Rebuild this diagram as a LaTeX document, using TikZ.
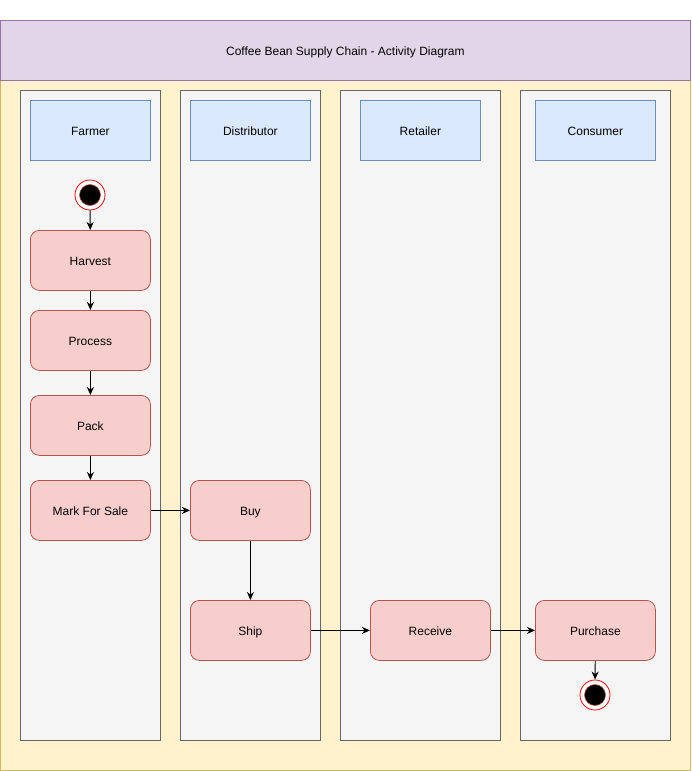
\documentclass[tikz,border=0pt]{standalone}
\usepackage{fontspec}
\setmainfont{Liberation Sans}
\usetikzlibrary{arrows.meta}
\definecolor{titlefill}{HTML}{E1D5E7}
\definecolor{titledraw}{HTML}{9673A6}
\definecolor{poolfill}{HTML}{FFF2CC}
\definecolor{pooldraw}{HTML}{D6B656}
\definecolor{lanefill}{HTML}{F5F5F5}
\definecolor{lanedraw}{HTML}{666666}
\definecolor{headfill}{HTML}{DAE8FC}
\definecolor{headdraw}{HTML}{6C8EBF}
\definecolor{actfill}{HTML}{F8CECC}
\definecolor{actdraw}{HTML}{B85450}
\definecolor{ringred}{HTML}{FF0000}
\tikzset{
  box/.style={draw, line width=0.8pt, inner sep=0pt, anchor=north west, text height=10.8pt, text depth=0pt, font=\fontsize{12}{14}\selectfont},
  lanebox/.style={box, fill=lanefill, draw=lanedraw},
  headbox/.style={box, fill=headfill, draw=headdraw, minimum width=120pt, minimum height=60pt},
  actbox/.style={box, fill=actfill, draw=actdraw, rounded corners=9pt, minimum width=120pt, minimum height=60pt},
  ring/.style={circle, draw=ringred, fill=white, line width=0.8pt, minimum size=30pt, inner sep=0pt},
  dot/.style={circle, fill=black, draw=actdraw, line width=0.6pt, minimum size=21pt, inner sep=0pt},
  flow/.style={draw=black, line width=0.9pt, -{Stealth[length=8pt,width=7pt,inset=2.5pt]}}
}
\begin{document}
\begin{tikzpicture}[x=1pt,y=-1pt]
\useasboundingbox (0,0) rectangle (691,771);
% pool
\node[box, fill=poolfill, draw=pooldraw, minimum width=690pt, minimum height=690pt] (pool) at (0,80) {};
\node[box, fill=titlefill, draw=titledraw, minimum width=690pt, minimum height=60pt] (title) at (0,20) {Coffee Bean Supply Chain - Activity Diagram};
% lanes
\node[lanebox, minimum width=140pt, minimum height=650pt] (lane1) at (20,90) {};
\node[lanebox, minimum width=140pt, minimum height=650pt] (lane2) at (180,90) {};
\node[lanebox, minimum width=160pt, minimum height=650pt] (lane3) at (340,90) {};
\node[lanebox, minimum width=150pt, minimum height=650pt] (lane4) at (520,90) {};
% headers
\node[headbox] (h1) at (30,100) {Farmer};
\node[headbox] (h2) at (190,100) {Distributor};
\node[headbox] (h3) at (360,100) {Retailer};
\node[headbox] (h4) at (535,100) {Consumer};
% start
\node[ring] (start) at (90,195) {};
\node[dot] (startdot) at (start.center) {};
% activities
\node[actbox] (harvest) at (30,230) {Harvest};
\node[actbox] (process) at (30,310) {Process};
\node[actbox] (pack) at (30,395) {Pack};
\node[actbox] (mark) at (30,480) {Mark For Sale};
\node[actbox] (buy) at (190,480) {Buy};
\node[actbox] (ship) at (190,600) {Ship};
\node[actbox] (receive) at (370,600) {Receive};
\node[actbox] (purchase) at (535,600) {Purchase};
% end
\node[ring] (stop) at (595,695) {};
\node[dot] (stopdot) at (stop.center) {};
% flows
\draw[flow] (start) -- (harvest);
\draw[flow] (harvest) -- (process);
\draw[flow] (process) -- (pack);
\draw[flow] (pack) -- (mark);
\draw[flow] (mark) -- (buy);
\draw[flow] (buy) -- (ship);
\draw[flow] (ship) -- (receive);
\draw[flow] (receive) -- (purchase);
\draw[flow] (purchase) -- (stop);
\end{tikzpicture}
\end{document}
